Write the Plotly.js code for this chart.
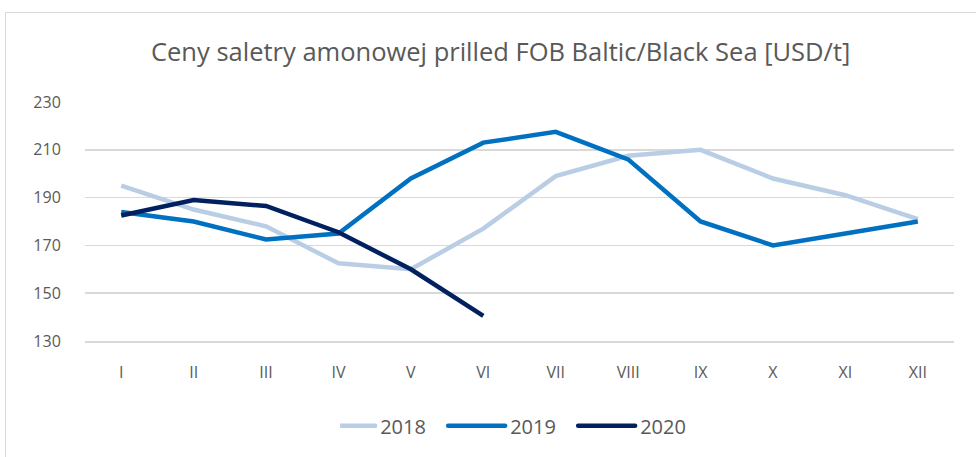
<!DOCTYPE html>
<html><head><meta charset="utf-8">
<script src="https://cdn.plot.ly/plotly-3.0.1.min.js"></script>
<style>
html,body{margin:0;padding:0;background:#fff;overflow:hidden}
#chart{position:absolute;left:0;top:0;width:976px;height:457px}
#frame{position:absolute;left:5px;top:12px;width:1000px;height:500px;border:1.5px solid #d9d9d9;pointer-events:none}
</style></head>
<body>
<div id="chart"></div>
<div id="frame"></div>
<script>
const months = ['I','II','III','IV','V','VI','VII','VIII','IX','X','XI','XII'];
const y2018 = [195,185,178,162.5,160,177,199,207.5,210,198,191,181];
const y2019 = [184,180,172.5,175,198,213,217.5,206,180,170,175,180];
const y2020 = [182.5,189,186.5,175.5,160,140.5];
const names = ['2018','2019','2020'];
const colors = ['#B9CDE5','#0070C0','#002060'];
const series = [y2018,y2019,y2020];
const traces = series.map((s,i)=>({
  x: months.slice(0,s.length), y: s, name: names[i], type:'scatter', mode:'lines',
  line:{color:colors[i], width:4.5}
}));
const layout = {
  width:976, height:457,
  margin:{l:85,r:22,t:102,b:114},
  paper_bgcolor:'rgba(0,0,0,0)', plot_bgcolor:'#fff',
  font:{family:'Open Sans, sans-serif', color:'#595959', size:16},
  title:{text:'Ceny saletry amonowej prilled FOB Baltic/Black Sea [USD/t]', font:{size:25.5, color:'#595959'}, x:0.513, xanchor:'center', y:0.885, yanchor:'middle'},
  xaxis:{type:'category', range:[-0.5,11.5], showgrid:false, showline:true, linecolor:'#d9d9d9', linewidth:1.5, ticks:'outside', ticklen:16, tickcolor:'rgba(0,0,0,0)', zeroline:false, tickfont:{size:16}},
  yaxis:{range:[130,230], dtick:20, tick0:130, showgrid:true, gridcolor:'#d9d9d9', gridwidth:1.5, zeroline:false, ticks:'outside', ticklen:20, tickcolor:'rgba(0,0,0,0)', tickfont:{size:16}},
  showlegend:true,
  legend:{orientation:'h', x:0.518, xanchor:'center', y:-0.355, yanchor:'middle', font:{size:20}, entrywidth:85, entrywidthmode:'pixels'}
};
Plotly.newPlot('chart', traces, layout, {displayModeBar:false, staticPlot:true}).then(gd=>{
  gd.querySelectorAll('.legend .legendlines path').forEach(p=>{
    p.setAttribute('d','M-22,0h57');
    p.style.strokeLinecap='round';
  });
});
</script>
</body></html>
